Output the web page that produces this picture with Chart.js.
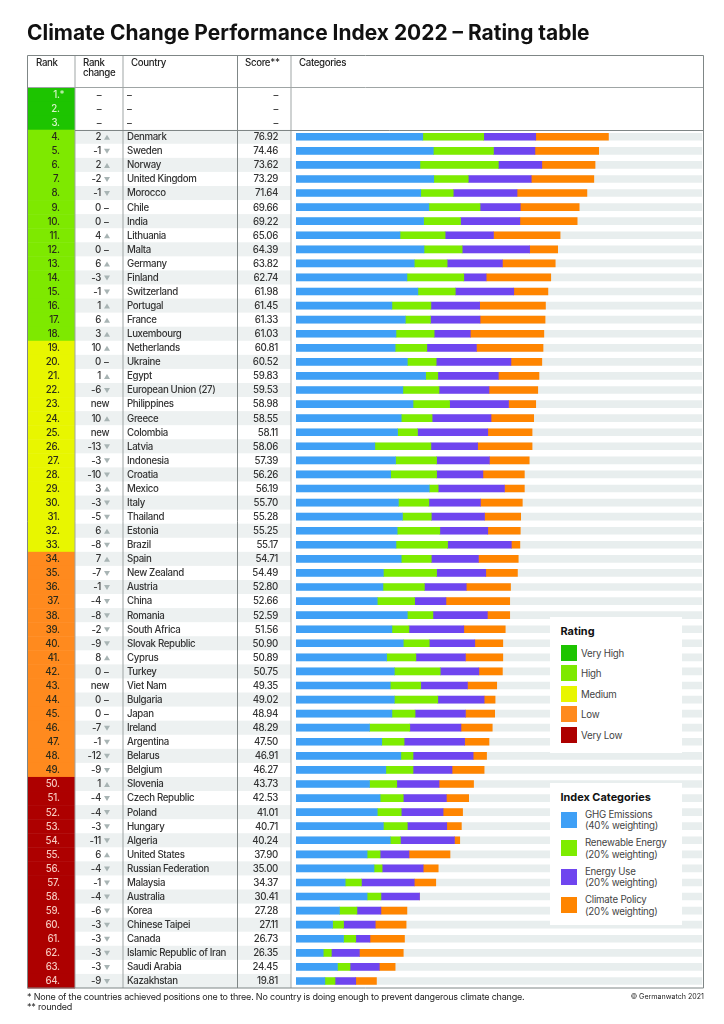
<!DOCTYPE html>
<html>
<head>
<meta charset="utf-8">
<script src="https://cdn.jsdelivr.net/npm/chart.js@4"></script>
<style>
  html, body { margin: 0; padding: 0; background: #fff; }
  body { position: relative; width: 724px; height: 1024px; overflow: hidden; font-family: Inter, sans-serif; color: #1c1c1c; }
  #canvas { position: absolute; left: 0; top: 0; }
  .abs { position: absolute; white-space: nowrap; }
  #title { left: 27px; top: 19px; font-size: 20.95px; line-height: 28px; font-weight: 700; color: #111; }
  .note { font-size: 9px; line-height: 10px; color: #222; letter-spacing: -0.2px; }
  .box { position: absolute; left: 550px; width: 132px; background: #fff; }
  .box h4 { position: absolute; left: 10.5px; margin: 0; font-size: 10.9px; line-height: 14px; font-weight: 700; color: #111; white-space: nowrap; }
  .swatch { position: absolute; left: 11px; width: 16px; height: 16px; }
  .lab { position: absolute; font-size: 9.7px; line-height: 11.4px; color: #444; white-space: nowrap; letter-spacing: -0.22px; }
</style>
</head>
<body>
<canvas id="canvas" width="724" height="1024"></canvas>
<div id="title" class="abs">Climate Change Performance Index 2022 – Rating table</div>
<div id="ratingBox" class="box" style="top:617px;height:136px"><h4 style="top:7px">Rating</h4></div>
<div id="catBox" class="box" style="top:783px;height:142px"><h4 style="top:7px">Index Categories</h4></div>
<div class="abs note" style="left:27px;top:992px">* None of the countries achieved positions one to three. No country is doing enough to prevent dangerous climate change.</div>
<div class="abs note" style="left:27px;top:1002px">** rounded</div>
<div class="abs note" style="right:20px;top:992px;font-size:7.1px;letter-spacing:0">© Germanwatch 2021</div>
<script>
"use strict";

const ranks = ["1.*","2.","3.","4.","5.","6.","7.","8.","9.","10.","11.","12.","13.","14.","15.","16.","17.","18.","19.","20.","21.","22.","23.","24.","25.","26.","27.","28.","29.","30.","31.","32.","33.","34.","35.","36.","37.","38.","39.","40.","41.","42.","43.","44.","45.","46.","47.","48.","49.","50.","51.","52.","53.","54.","55.","56.","57.","58.","59.","60.","61.","62.","63.","64."];

const rankChange = ["–","–","–",2,-1,2,-2,-1,0,0,4,0,6,-3,-1,1,6,3,10,0,1,-6,"new",10,"new",-13,-3,-10,3,-3,-5,6,-8,7,-7,-1,-4,-8,-2,-9,8,0,"new",0,0,-7,-1,-12,-9,1,-4,-4,-3,-11,6,-4,-1,-4,-6,-3,-3,-3,-3,-9];

const countries = ["–","–","–","Denmark","Sweden","Norway","United Kingdom","Morocco","Chile","India","Lithuania","Malta","Germany","Finland","Switzerland","Portugal","France","Luxembourg","Netherlands","Ukraine","Egypt","European Union (27)","Philippines","Greece","Colombia","Latvia","Indonesia","Croatia","Mexico","Italy","Thailand","Estonia","Brazil","Spain","New Zealand","Austria","China","Romania","South Africa","Slovak Republic","Cyprus","Turkey","Viet Nam","Bulgaria","Japan","Ireland","Argentina","Belarus","Belgium","Slovenia","Czech Republic","Poland","Hungary","Algeria","United States","Russian Federation","Malaysia","Australia","Korea","Chinese Taipei","Canada","Islamic Republic of Iran","Saudi Arabia","Kazakhstan"];

const scores = ["–","–","–","76.92","74.46","73.62","73.29","71.64","69.66","69.22","65.06","64.39","63.82","62.74","61.98","61.45","61.33","61.03","60.81","60.52","59.83","59.53","58.98","58.55","58.11","58.06","57.39","56.26","56.19","55.70","55.28","55.25","55.17","54.71","54.49","52.80","52.66","52.59","51.56","50.90","50.89","50.75","49.35","49.02","48.94","48.29","47.50","46.91","46.27","43.73","42.53","41.01","40.71","40.24","37.90","35.00","34.37","30.41","27.28","27.11","26.73","26.35","24.45","19.81"];

const ghgEmissions = [null,null,null,31.2,33.8,30.5,33.9,30.7,32.7,31.4,25.6,31.5,29.1,27.3,30.0,23.6,26.9,24.6,24.4,27.4,31.9,26.3,28.8,25.9,25.0,19.4,24.5,23.3,32.8,25.2,26.2,24.9,24.6,25.9,21.5,21.4,20.0,27.4,23.6,26.4,22.3,24.2,23.2,24.2,23.6,18.1,21.1,25.8,22.1,18.1,20.7,20.0,21.5,23.2,17.5,19.2,12.1,17.5,10.7,9.0,11.7,6.7,10.2,7.1];
const renewableEnergy = [null,null,null,15.0,14.8,19.3,8.5,8.0,12.6,9.1,11.1,9.4,8.1,14.0,9.2,9.6,6.2,9.4,7.8,7.1,3.0,8.9,9.0,7.6,4.9,13.8,10.1,11.3,2.2,7.5,7.1,10.5,12.7,7.4,13.1,10.2,9.2,6.3,4.2,6.4,7.2,11.3,7.5,10.7,5.7,9.9,5.5,3.0,6.7,6.7,5.7,5.9,5.9,2.5,3.2,2.0,4.0,3.4,4.3,2.7,3.0,2.0,3.1,2.5];
const energyUse = [null,null,null,12.8,10.2,10.7,15.5,15.7,9.9,14.6,11.9,16.6,13.6,5.5,14.4,12.0,12.2,8.9,12.2,18.4,14.9,12.3,14.5,14.5,17.3,11.5,13.0,11.4,16.3,12.7,13.1,11.8,15.7,11.6,12.1,10.3,7.7,13.4,13.5,11.2,12.2,9.5,11.5,11.4,12.4,12.6,14.9,14.8,9.6,10.4,10.6,10.3,9.7,13.3,7.1,10.1,13.0,9.5,5.9,7.8,3.5,6.9,7.2,5.1];
const climatePolicy = [null,null,null,17.9,15.7,13.1,15.4,17.2,14.5,14.1,16.4,6.9,13.0,15.9,8.4,16.2,16.0,18.1,16.4,7.6,10.0,12.0,6.7,10.5,10.9,13.4,9.8,10.2,4.9,10.3,8.9,8.0,2.1,9.8,7.8,10.9,15.7,5.5,10.2,6.9,9.2,5.8,7.2,2.7,7.2,7.7,6.0,3.3,7.9,8.5,5.5,4.8,3.6,1.3,10.1,3.7,5.3,0,6.4,7.6,8.5,10.8,3.9,5.1];
const scaleMax = [null,null,null].concat(ranks.slice(3).map(() => 100)); // grey track behind each bar

const ratingNames = ["Very High","High","Medium","Low","Very Low"];
const ratingColors = ["#1dc400","#7ee900","#e8f600","#ff8a1e","#ad0000"];
const ratingLastRank = [3,18,33,49,64];

const catNames = [["GHG Emissions","(40% weighting)"],["Renewable Energy","(20% weighting)"],["Energy Use","(20% weighting)"],["Climate Policy","(20% weighting)"]];
const catColors = ["#3fa0f6","#7eec00","#6f45ef","#ff8500"];

const LINE_DARK = "#7f8686";
const LINE_LIGHT = "#9fa5a5";
const STRIPE = "#edf1f1";

const ratingIndex = (i) => ratingLastRank.findIndex((r) => i < r);

// table cells, stripes and frame are placed from the y scale so they stay in line with the bars
const tablePlugin = {
  id: "table",
  beforeDatasetsDraw(chart) {
    const { ctx, scales } = chart;
    const y = scales.y;
    const rowH = y.getPixelForValue(1) - y.getPixelForValue(0);
    const top = y.getPixelForValue(0) - rowH / 2;
    const bottom = y.getPixelForValue(63) + rowH / 2;

    ctx.save();
    ranks.forEach((rank, i) => {
      const cy = y.getPixelForValue(i);
      ctx.fillStyle = ratingColors[ratingIndex(i)];
      ctx.fillRect(27.5, cy - rowH / 2, 47.5, rowH + 0.5);
      if (i >= 3 && i % 2 === 1) {
        ctx.fillStyle = STRIPE;
        ctx.fillRect(75, cy - rowH / 2, 216, rowH);
      }
    });

    ctx.textBaseline = "middle";
    ctx.font = "500 9.7px Inter";
    ctx.letterSpacing = "-0.35px";
    ranks.forEach((rank, i) => {
      const cy = y.getPixelForValue(i) + 0.5;
      const r = ratingIndex(i);
      ctx.fillStyle = r === 0 ? "#d8f5c8" : r === 4 ? "#f6c9bf" : "#2a2a1a";
      ctx.textAlign = "right";
      if (rank.endsWith("*")) {
        ctx.fillText(rank.slice(0, -1), 59.5, cy);
        ctx.textAlign = "left";
        ctx.fillText("*", 59.5, cy);
      } else {
        ctx.fillText(rank, 59.5, cy);
      }

      ctx.fillStyle = "#333";
      const ch = rankChange[i];
      if (typeof ch === "string") {
        ctx.textAlign = "center";
        ctx.fillText(ch, ch === "new" ? 100 : 99, cy);
      } else {
        ctx.textAlign = "right";
        ctx.fillText(String(ch), 101, cy);
        if (ch === 0) {
          ctx.textAlign = "left";
          ctx.fillText("–", 104, cy);
        } else {
          const dir = ch > 0 ? -1 : 1;
          ctx.fillStyle = "#a8b4b4";
          ctx.beginPath();
          ctx.moveTo(104, cy - dir * 2.5);
          ctx.lineTo(110, cy - dir * 2.5);
          ctx.lineTo(107, cy + dir * 2.5);
          ctx.closePath();
          ctx.fill();
        }
      }

      ctx.fillStyle = "#333";
      ctx.textAlign = "left";
      ctx.fillText(countries[i], 127, cy);
      ctx.textAlign = "right";
      ctx.fillText(scores[i], 278, cy);
    });

    // header
    ctx.fillStyle = "#222";
    ctx.textAlign = "left";
    ctx.fillText("Rank", 36, 63.5);
    ctx.fillText("Rank", 83, 63.5);
    ctx.fillText("change", 83, 73.5);
    ctx.fillText("Country", 131, 63.5);
    ctx.fillText("Score**", 245, 63.5);
    ctx.fillText("Categories", 299, 63.5);

    // frame
    ctx.lineWidth = 1;
    ctx.strokeStyle = LINE_LIGHT;
    ctx.beginPath();
    [75, 123, 291].forEach((x) => {
      ctx.moveTo(x, 55.5);
      ctx.lineTo(x, bottom);
    });
    ctx.moveTo(27.5, top);
    ctx.lineTo(703.5, top);
    ctx.stroke();

    ctx.strokeStyle = LINE_DARK;
    ctx.beginPath();
    ctx.rect(27.5, 55.5, 676, bottom - 55.5);
    ctx.moveTo(237.5, 55.5);
    ctx.lineTo(237.5, bottom);
    ctx.moveTo(75, 130.5);
    ctx.lineTo(703.5, 130.5);
    ctx.stroke();
    ctx.restore();
  },
};

const ctx = document.getElementById("canvas").getContext("2d");

const lineChart = new Chart(ctx, {
  type: "bar",
  plugins: [tablePlugin],
  data: {
    labels: countries,
    datasets: [
      { label: "GHG Emissions", data: ghgEmissions, backgroundColor: catColors[0], stack: "bars", order: 1 },
      { label: "Renewable Energy", data: renewableEnergy, backgroundColor: catColors[1], stack: "bars", order: 1 },
      { label: "Energy Use", data: energyUse, backgroundColor: catColors[2], stack: "bars", order: 1 },
      { label: "Climate Policy", data: climatePolicy, backgroundColor: catColors[3], stack: "bars", order: 1 },
      { label: "track", data: scaleMax, backgroundColor: "#e8eeee", stack: "track", order: 2 },
    ],
  },
  options: {
    indexAxis: "y",
    responsive: false,
    animation: false,
    grouped: false,
    barThickness: 7,
    layout: { padding: { left: 296, right: 21.7, top: 87.5, bottom: 36 } },
    plugins: {
      legend: { display: false },
      tooltip: { enabled: false },
    },
    scales: {
      x: { display: false, stacked: true, min: 0, max: 100 },
      y: { display: false, stacked: true },
    },
  },
});

// legends
const addSwatch = (box, color, top) => {
  const s = document.createElement("div");
  s.className = "swatch";
  s.style.background = color;
  s.style.top = top + "px";
  box.appendChild(s);
};
const addLabel = (box, lines, left, top) => {
  const l = document.createElement("div");
  l.className = "lab";
  l.style.left = left + "px";
  l.style.top = top + "px";
  l.innerHTML = lines.join("<br>");
  box.appendChild(l);
};

const ratingBox = document.getElementById("ratingBox");
ratingNames.forEach((name, i) => {
  addSwatch(ratingBox, ratingColors[i], 28 + i * 20.4);
  addLabel(ratingBox, [name], 31, 31 + i * 20.4);
});

const catBox = document.getElementById("catBox");
catNames.forEach((lines, i) => {
  addSwatch(catBox, catColors[i], 29 + i * 28.4);
  addLabel(catBox, lines, 35, 26 + i * 28.4);
});
</script>
</body>
</html>
